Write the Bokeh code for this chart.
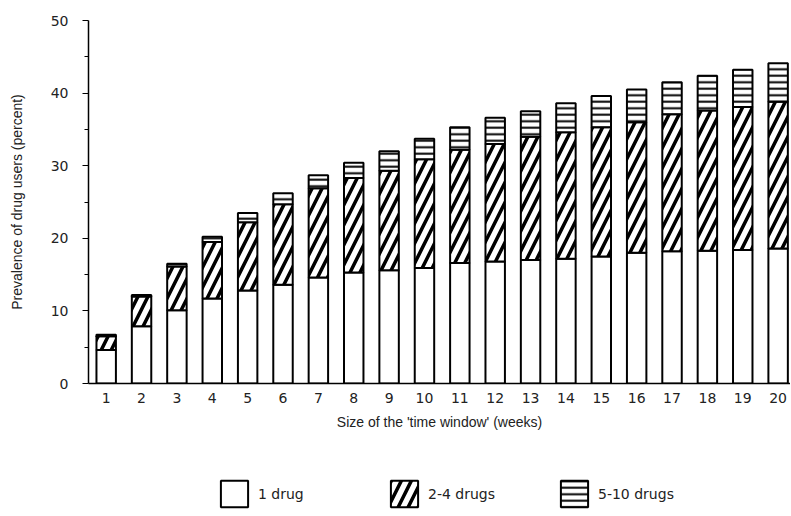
from bokeh.plotting import figure
from bokeh.layouts import column
from bokeh.models import ColumnDataSource, Range1d, FixedTicker, Legend, LegendItem
from bokeh.embed import file_html
from bokeh.resources import INLINE

weeks = [1, 2, 3, 4, 5, 6, 7, 8, 9, 10, 11, 12, 13, 14, 15, 16, 17, 18, 19, 20]
week_labels = ["1", "2", "3", "4", "5", "6", "7", "8", "9", "10",
               "11", "12", "13", "14", "15", "16", "17", "18", "19", "20"]
one_drug = [4.6, 7.9, 10.1, 11.7, 12.8, 13.6, 14.6, 15.3, 15.6, 15.9,
            16.6, 16.8, 17.0, 17.2, 17.5, 18.0, 18.2, 18.3, 18.4, 18.6]
two_four = [1.9, 4.1, 6.0, 7.8, 9.4, 11.1, 12.3, 13.0, 13.7, 15.0,
            15.6, 16.2, 17.0, 17.4, 17.8, 18.0, 18.9, 19.3, 19.7, 20.2]
five_ten = [0.2, 0.2, 0.4, 0.7, 1.3, 1.5, 1.8, 2.1, 2.7, 2.8,
            3.1, 3.6, 3.5, 4.0, 4.3, 4.5, 4.4, 4.8, 5.1, 5.3]
series_names = ["1 drug", "2-4 drugs", "5-10 drugs"]
y_ticks = [0, 10, 20, 30, 40, 50]
y_minor = [5, 15, 25, 35, 45]

FONT = "Liberation Sans"
TICKFONT = "DejaVu Sans"
TXT = "#222222"
patterns = [" ", "/", "-"]
weights = [1, 3.5, 2]
scales = [12, 20, 6.5]
cols = ["one", "two", "five"]

src = ColumnDataSource(dict(week=weeks, one=one_drug, two=two_four, five=five_ten))

p = figure(width=790, height=443, x_range=Range1d(0.5, 20.35), y_range=Range1d(0, 50),
           output_backend="svg", toolbar_location=None,
           min_border_left=88, min_border_right=0, min_border_top=20, min_border_bottom=60)
p.outline_line_color = None
p.grid.grid_line_color = None

p.vbar_stack(cols, x="week", width=0.55, source=src,
             fill_color="white", line_color="black", line_width=2,
             hatch_pattern=patterns, hatch_color="black",
             hatch_weight=weights, hatch_scale=scales)

ya = p.yaxis[0]
ya.ticker = FixedTicker(ticks=y_ticks, minor_ticks=y_minor)
ya.axis_line_color = "black"
ya.axis_line_width = 1.5
ya.major_tick_out = 6
ya.major_tick_in = 0
ya.minor_tick_out = 4
ya.minor_tick_in = 0
ya.major_tick_line_color = "black"
ya.minor_tick_line_color = "black"
ya.major_label_standoff = 14
ya.major_label_text_font = TICKFONT
ya.major_label_text_font_size = "14px"
ya.major_label_text_color = TXT
ya.axis_label = "Prevalence of drug users (percent)"
ya.axis_label_text_font = FONT
ya.axis_label_text_font_size = "14px"
ya.axis_label_text_font_style = "normal"
ya.axis_label_text_color = TXT
ya.axis_label_standoff = 23

xa = p.xaxis[0]
xa.ticker = FixedTicker(ticks=weeks)
xa.major_label_overrides = {w: l for w, l in zip(weeks, week_labels)}
xa.axis_line_color = "black"
xa.axis_line_width = 1.5
xa.major_tick_line_color = None
xa.minor_tick_line_color = None
xa.major_tick_out = 0
xa.major_tick_in = 0
xa.major_label_standoff = 9
xa.major_label_text_font = TICKFONT
xa.major_label_text_font_size = "14px"
xa.major_label_text_color = TXT
xa.axis_label = "Size of the 'time window' (weeks)"
xa.axis_label_text_font = FONT
xa.axis_label_text_font_size = "14px"
xa.axis_label_text_font_style = "normal"
xa.axis_label_text_color = TXT
xa.axis_label_standoff = 8

# legend panel: hidden copies of the bar series, only their legend swatches show
p2 = figure(width=790, height=69, x_range=Range1d(0.5, 20.35), y_range=Range1d(0, 50),
            x_axis_type=None, y_axis_type=None,
            output_backend="svg", toolbar_location=None,
            min_border=0)
p2.outline_line_color = None
p2.grid.grid_line_color = None
items = []
for name, col, pat, w, s in zip(series_names, cols, patterns, weights, scales):
    r = p2.vbar(x="week", top=col, width=0.55, source=src,
                fill_color="white", line_color="black", line_width=2,
                hatch_pattern=pat, hatch_color="black", hatch_weight=w, hatch_scale=s)
    r.visible = False
    items.append(LegendItem(label=name, renderers=[r]))

legend = Legend(items=items, orientation="horizontal", location=(129, 2),
                glyph_width=34, glyph_height=33, label_standoff=7, label_width=110,
                spacing=19, padding=0, margin=0,
                border_line_color=None, background_fill_alpha=0,
                inactive_fill_alpha=0,
                label_text_font=TICKFONT, label_text_font_size="14px", label_text_color=TXT)
p2.add_layout(legend)

layout = column(p, p2, spacing=0)
open("out.html", "w").write(file_html(layout, INLINE))
